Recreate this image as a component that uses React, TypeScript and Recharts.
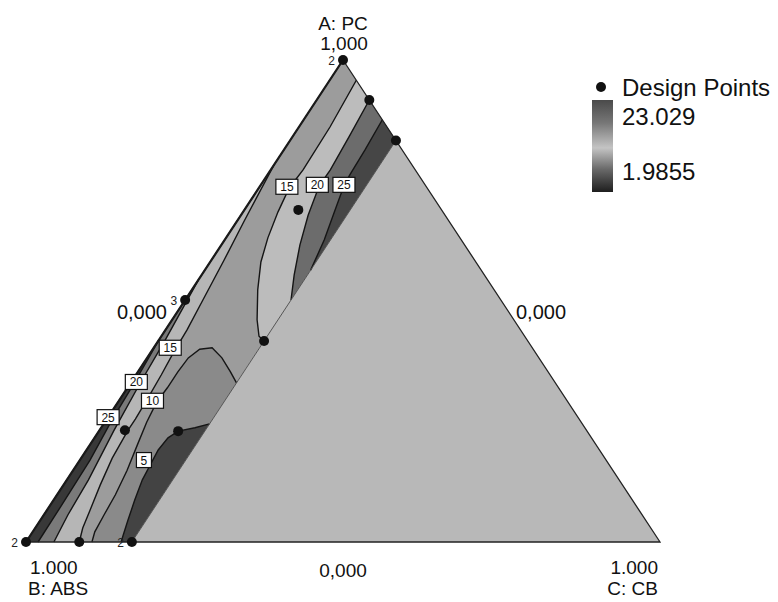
import React from 'react';
import { ScatterChart, Scatter, XAxis, YAxis } from 'recharts';

// Ternary compositions as [A (PC), C (CB)]; B (ABS) = 1 - A - C
type TP = [number, number];

const vertexA: TP = [1, 0];
const vertexB: TP = [0, 0];
const vertexC: TP = [0, 1];
const innerApex: TP = [0.833, 0.167];
const innerBase: TP = [0, 0.167];

const contour15Upper: TP[] = [[0.958, 0.042], [0.861, 0.049], [0.772, 0.051], [0.734, 0.048], [0.685, 0.055], [0.631, 0.066], [0.581, 0.080], [0.523, 0.104], [0.461, 0.134], [0.427, 0.154], [0.417, 0.167]];
const contour20Upper: TP[] = [[0.917, 0.083], [0.844, 0.089], [0.772, 0.094], [0.739, 0.093], [0.678, 0.106], [0.616, 0.124], [0.554, 0.146], [0.502, 0.167]];
const contour25Upper: TP[] = [[0.876, 0.124], [0.813, 0.128], [0.761, 0.130], [0.739, 0.132], [0.689, 0.143], [0.627, 0.157], [0.564, 0.167]];
const contour15Edge: TP[] = [[0.782, 0], [0.668, 0.011], [0.585, 0.020], [0.502, 0.028], [0.440, 0.034], [0.394, 0.036], [0.347, 0.040], [0.299, 0.043], [0.255, 0.045], [0.232, 0.045], [0.174, 0.049], [0.118, 0.058], [0.066, 0.068], [0.029, 0.075], [0, 0.084]];
const contour20Edge: TP[] = [[0.544, 0], [0.419, 0.010], [0.332, 0.015], [0.232, 0.023], [0.129, 0.034], [0.056, 0.038], [0, 0.044]];
const contour25Edge: TP[] = [[0.419, 0], [0.326, 0.006], [0.253, 0.009], [0.170, 0.016], [0.077, 0.018], [0, 0.019]];
const contour10: TP[] = [[0.330, 0.167], [0.353, 0.146], [0.382, 0.118], [0.403, 0.092], [0.400, 0.074], [0.382, 0.065], [0.353, 0.063], [0.320, 0.063], [0.291, 0.061], [0.249, 0.066], [0.201, 0.075], [0.149, 0.085], [0.098, 0.092], [0.056, 0.095], [0.021, 0.098], [0, 0.104]];
const contour5: TP[] = [[0.245, 0.167], [0.237, 0.148], [0.230, 0.125], [0.216, 0.116], [0.191, 0.113], [0.160, 0.116], [0.129, 0.119], [0.087, 0.128], [0.046, 0.138], [0.015, 0.146], [0, 0.150]];

const designPoints: TP[] = [[1, 0], [0.917, 0.083], [0.833, 0.167], [0.689, 0.085], [0.502, 0], [0.417, 0.167], [0.232, 0.040], [0.230, 0.125], [0, 0], [0, 0.084], [0, 0.167]];
const designReplicates: string[] = ['2', '', '', '', '3', '', '', '', '2', '', '2'];

const contourLabelTexts: string[] = ['15', '20', '25', '15', '20', '10', '25', '5'];
const contourLabelPositions: TP[] = [[0.737, 0.043], [0.741, 0.089], [0.741, 0.131], [0.403, 0.026], [0.332, 0.008], [0.293, 0.053], [0.259, 0.0], [0.170, 0.101]];

const legendMax = '23.029';
const legendMin = '1.9855';

const toXY = ([a, c]: TP) => ({ x: c + a / 2, y: a });
const poly = (pts: TP[]) => pts.map(toXY);

const FONT = '"Liberation Sans", Arial, sans-serif';

const Nothing = () => <g />;

const DesignDot = (props: any) => {
  const { cx, cy, payload } = props;
  return (
    <g>
      <circle cx={cx} cy={cy} r={5} fill="#111" />
      {payload.rep ? (
        <text x={cx - 8} y={cy + 5} textAnchor="end" fontSize={12} fontFamily={FONT} fill="#222">{payload.rep}</text>
      ) : null}
    </g>
  );
};

const ContourLabel = (props: any) => {
  const { cx, cy, payload } = props;
  const w = payload.text.length > 1 ? 22 : 15;
  return (
    <g>
      <rect x={cx - w / 2} y={cy - 7.5} width={w} height={15} fill="#fff" stroke="#111" strokeWidth={1.2} />
      <text x={cx} y={cy + 4.5} textAnchor="middle" fontSize={12} fontFamily={FONT} fill="#111">{payload.text}</text>
    </g>
  );
};

const area = (key: string, pts: TP[], color: string) => (
  <Scatter key={key} data={poly(pts)} isAnimationActive={false} shape={<Nothing />} line={{ fill: color, stroke: 'none' }} lineType="joint" lineJointType="linear" />
);

const curve = (key: string, pts: TP[], width = 1.4, color = '#151515') => (
  <Scatter key={key} data={poly(pts)} isAnimationActive={false} shape={<Nothing />} line={{ fill: 'none', stroke: color, strokeWidth: width }} lineType="joint" lineJointType="linear" />
);

export default function App() {
  const dpData = designPoints.map((p, i) => ({ ...toXY(p), rep: designReplicates[i] }));
  const lblData = contourLabelPositions.map((p, i) => ({ ...toXY(p), text: contourLabelTexts[i] }));
  return (
    <ScatterChart width={770} height={594} margin={{ top: 52, right: 118, bottom: 60, left: 18 }}>
      <defs>
        <linearGradient id="cbar" x1="0" y1="0" x2="0" y2="1">
          <stop offset="0%" stopColor="#4a4a4a" />
          <stop offset="25%" stopColor="#777" />
          <stop offset="52%" stopColor="#c4c4c4" />
          <stop offset="75%" stopColor="#6a6a6a" />
          <stop offset="100%" stopColor="#1e1e1e" />
        </linearGradient>
      </defs>
      <XAxis type="number" dataKey="x" domain={[0, 1]} hide />
      <YAxis type="number" dataKey="y" domain={[0, 1]} hide />

      {area('strip', [vertexA, innerApex, innerBase, vertexB], '#9c9c9c')}
      {area('u15', [...contour15Upper, innerApex], '#bcbcbc')}
      {area('u20', [...contour20Upper, innerApex], '#6c6c6c')}
      {area('u25', [...contour25Upper, innerApex], '#464646')}
      {area('e15', [...contour15Edge, vertexB], '#b6b6b6')}
      {area('e20', [...contour20Edge, vertexB], '#7a7a7a')}
      {area('e25', [...contour25Edge, vertexB], '#383838')}
      {area('b10', [...contour10, innerBase], '#8a8a8a')}
      {area('b5', [...contour5, innerBase], '#434343')}
      {area('light', [innerApex, vertexC, innerBase], '#b8b8b8')}

      {curve('c15u', contour15Upper)}
      {curve('c20u', contour20Upper)}
      {curve('c25u', contour25Upper)}
      {curve('c15e', contour15Edge)}
      {curve('c20e', contour20Edge)}
      {curve('c25e', contour25Edge)}
      {curve('c10', contour10)}
      {curve('c5', contour5)}
      {curve('inner', [innerApex, innerBase], 1, '#555')}
      {curve('outline', [vertexA, vertexB, vertexC, vertexA], 1.3, '#222')}
      {curve('edgeAB', [vertexA, vertexB], 2.2, '#1a1a1a')}

      <Scatter data={lblData} isAnimationActive={false} shape={<ContourLabel />} />
      <Scatter data={dpData} isAnimationActive={false} shape={<DesignDot />} />

      <g fontFamily={FONT} fill="#111">
        <text x={335} y={22} fontSize={19} textAnchor="middle">A: PC</text>
        <text x={336} y={42} fontSize={19} textAnchor="middle">1,000</text>
        <text x={159} y={311} fontSize={20} textAnchor="end">0,000</text>
        <text x={508} y={311} fontSize={20} textAnchor="start">0,000</text>
        <text x={335} y={569} fontSize={19} textAnchor="middle">0,000</text>
        <text x={22} y={566} fontSize={19} textAnchor="start">1.000</text>
        <text x={20} y={587} fontSize={19} textAnchor="start">B: ABS</text>
        <text x={650} y={566} fontSize={19} textAnchor="end">1.000</text>
        <text x={650} y={587} fontSize={19} textAnchor="end">C: CB</text>

        <circle cx={593} cy={79} r={5} fill="#111" />
        <text x={614} y={88} fontSize={24}>Design Points</text>
        <rect x={584} y={92} width={21} height={92} fill="url(#cbar)" />
        <text x={614} y={117} fontSize={24}>{legendMax}</text>
        <text x={614} y={172} fontSize={24}>{legendMin}</text>
      </g>
    </ScatterChart>
  );
}
